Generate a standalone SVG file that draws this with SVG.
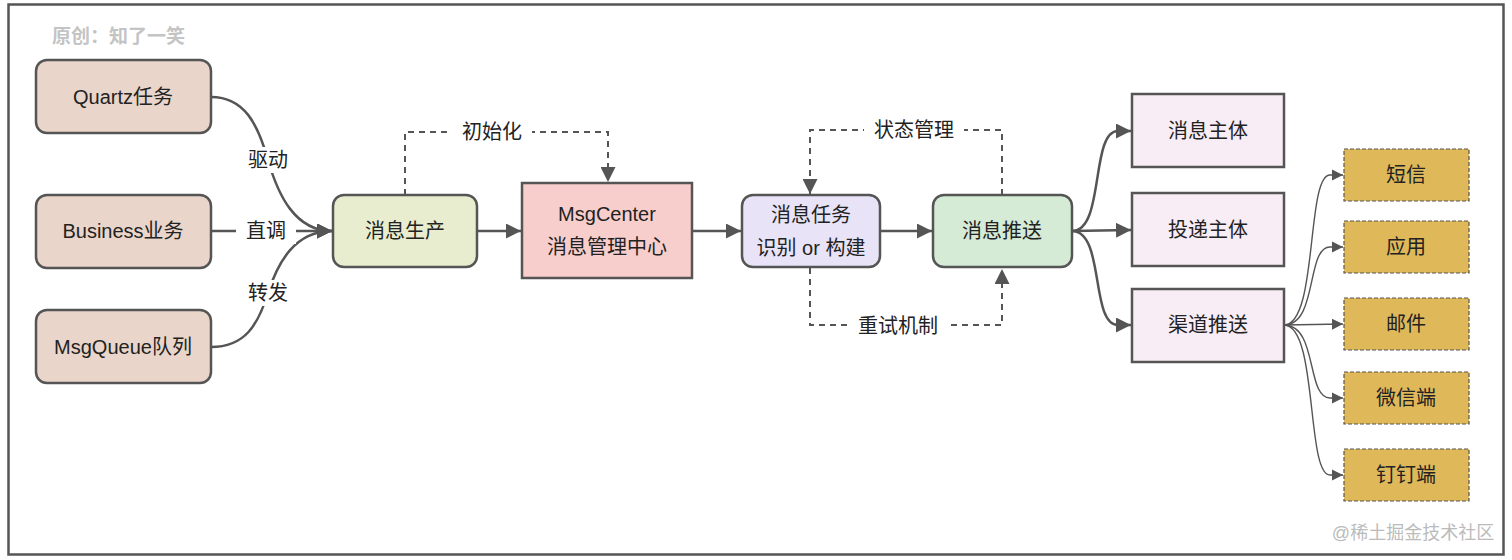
<svg xmlns="http://www.w3.org/2000/svg" width="1512" height="560" viewBox="0 0 1512 560">
<style>
text{font-family:"Liberation Sans","Noto Sans CJK SC",sans-serif;font-size:20px;fill:#222;text-anchor:middle;dominant-baseline:central}
.n{stroke:#555;stroke-width:2.5}
.src{fill:#e9d5ca}
.y{fill:#dfb85a;stroke:#555;stroke-width:1.2;stroke-dasharray:4 2}
.c{fill:none;stroke:#555;stroke-width:2.5}
.d{fill:none;stroke:#555;stroke-width:2;stroke-dasharray:6 5}
.t{fill:none;stroke:#555;stroke-width:1.4}
.lb{fill:#fff}
</style>
<defs>
<marker id="a" viewBox="0 0 10 10" refX="10" refY="5" markerWidth="6" markerHeight="6" markerUnits="strokeWidth" orient="auto"><path d="M0,0L10,5L0,10z" fill="#555"/></marker>
<marker id="ad" viewBox="0 0 10 10" refX="10" refY="5" markerWidth="7.5" markerHeight="7.5" markerUnits="strokeWidth" orient="auto"><path d="M0,0L10,5L0,10z" fill="#555"/></marker>
<marker id="as" viewBox="0 0 10 10" refX="10" refY="5" markerWidth="8" markerHeight="8" markerUnits="strokeWidth" orient="auto"><path d="M0,0L10,5L0,10z" fill="#555"/></marker>
</defs>
<rect width="1512" height="560" fill="#fff"/>
<rect x="8.5" y="4.5" width="1495" height="550" fill="#fff" stroke="#555" stroke-width="2.5"/>
<text x="52" y="36" style="text-anchor:start;fill:#c4c4c4;font-weight:bold;font-size:19px">原创：知了一笑</text>

<g id="connectors">
<path class="c" d="M211,97 C245,97 258,125 268,160 C278,195 295,231 332,231" marker-end="url(#a)"/>
<path class="c" d="M211,347 C245,347 258,325 268,293 C278,262 295,231 332,231" marker-end="url(#a)"/>
<path class="c" d="M211,231 L332,231" marker-end="url(#a)"/>
<path class="c" d="M477,231 L521,231" marker-end="url(#a)"/>
<path class="c" d="M692,231 L741,231" marker-end="url(#a)"/>
<path class="c" d="M880,231 L932,231" marker-end="url(#a)"/>
<path class="d" d="M405,195 L405,132 L608,132 L608,182" marker-end="url(#ad)"/>
<path class="d" d="M1002,195 L1002,130 L810,130 L810,194" marker-end="url(#ad)"/>
<path class="d" d="M810,268 L810,325 L1002,325 L1002,269" marker-end="url(#ad)"/>
<path class="c" d="M1072,231 C1105,231 1090,131 1118,131 L1131,131" marker-end="url(#a)"/>
<path class="c" d="M1072,231 L1131,230" marker-end="url(#a)"/>
<path class="c" d="M1072,231 C1105,231 1090,325 1118,325 L1131,325" marker-end="url(#a)"/>
<path class="t" d="M1284,325 C1318,325 1306,175 1330,175 L1343,175" marker-end="url(#as)"/>
<path class="t" d="M1284,325 C1318,325 1306,247 1330,247 L1343,247" marker-end="url(#as)"/>
<path class="t" d="M1284,325 L1343,324" marker-end="url(#as)"/>
<path class="t" d="M1284,325 C1318,325 1306,398 1330,398 L1343,398" marker-end="url(#as)"/>
<path class="t" d="M1284,325 C1318,325 1306,475 1330,475 L1343,475" marker-end="url(#as)"/>
<rect class="lb" x="246" y="147" width="44" height="26"/>
<text x="268" y="160">驱动</text>
<rect class="lb" x="236" y="218" width="60" height="26"/>
<text x="266" y="231">直调</text>
<rect class="lb" x="246" y="280" width="44" height="26"/>
<text x="268" y="293">转发</text>
<rect class="lb" x="452" y="119" width="80" height="26"/>
<text x="492" y="132">初始化</text>
<rect class="lb" x="864" y="117" width="100" height="26"/>
<text x="914" y="130">状态管理</text>
<rect class="lb" x="850" y="312" width="100" height="26"/>
<text x="898" y="326">重试机制</text>
</g>

<g id="quartz"><rect class="n src" x="36" y="60" width="175" height="73" rx="11"/><text x="123" y="97">Quartz任务</text></g>
<g id="business"><rect class="n src" x="36" y="195" width="175" height="73" rx="11"/><text x="123" y="231">Business业务</text></g>
<g id="msgqueue"><rect class="n src" x="36" y="310" width="175" height="73" rx="11"/><text x="123" y="347">MsgQueue队列</text></g>
<g id="produce"><rect class="n" fill="#e7edce" x="333" y="195" width="144" height="72" rx="11"/><text x="405" y="231">消息生产</text></g>
<g id="msgcenter"><rect class="n" fill="#f8cecc" x="522" y="183" width="170" height="95"/><text x="607" y="214">MsgCenter</text><text x="607" y="247">消息管理中心</text></g>
<g id="task"><rect class="n" fill="#e8e3f6" x="742" y="195" width="138" height="72" rx="11"/><text x="811" y="215">消息任务</text><text x="811" y="248">识别 or 构建</text></g>
<g id="push"><rect class="n" fill="#d5ebd5" x="933" y="195" width="139" height="72" rx="11"/><text x="1002" y="231">消息推送</text></g>
<g id="body"><rect class="n" fill="#f8edf5" x="1132" y="94" width="152" height="73"/><text x="1208" y="131">消息主体</text></g>
<g id="deliver"><rect class="n" fill="#f8edf5" x="1132" y="193" width="152" height="73"/><text x="1208" y="230">投递主体</text></g>
<g id="channel"><rect class="n" fill="#f8edf5" x="1132" y="289" width="152" height="73"/><text x="1208" y="325">渠道推送</text></g>
<g id="sms"><rect class="y" x="1344" y="149" width="125" height="52"/><text x="1406" y="175">短信</text></g>
<g id="app"><rect class="y" x="1344" y="221" width="125" height="52"/><text x="1406" y="247">应用</text></g>
<g id="mail"><rect class="y" x="1344" y="298" width="125" height="52"/><text x="1406" y="324">邮件</text></g>
<g id="wechat"><rect class="y" x="1344" y="372" width="125" height="52"/><text x="1406" y="398">微信端</text></g>
<g id="dingtalk"><rect class="y" x="1344" y="449" width="125" height="52"/><text x="1406" y="475">钉钉端</text></g>
<text x="1413" y="533" style="fill:#bbb;font-size:18px">@稀土掘金技术社区</text>
</svg>
